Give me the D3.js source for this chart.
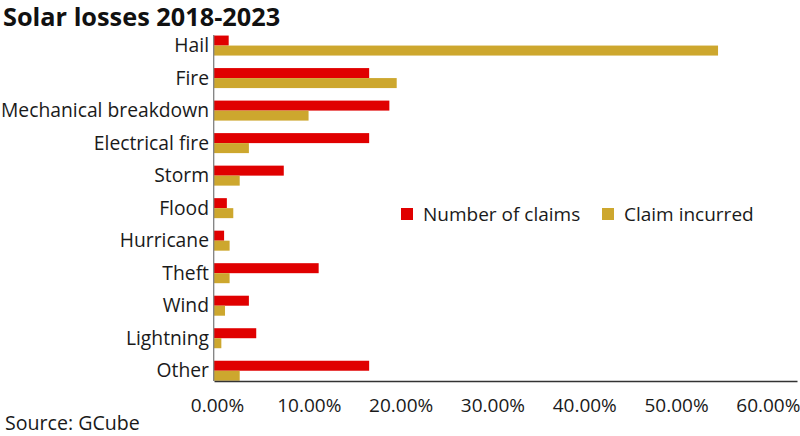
<!DOCTYPE html>
<html><head><meta charset="utf-8">
<script src="https://cdn.jsdelivr.net/npm/d3@7"></script>
<style>body{margin:0;background:#fff}svg{display:block}text{font-family:"Open Sans",sans-serif}</style>
</head><body><svg id="c" width="800" height="436"></svg>
<script>
const categories = ["Hail","Fire","Mechanical breakdown","Electrical fire","Storm","Flood","Hurricane","Theft","Wind","Lightning","Other"];
const numberOfClaims = [1.6,16.9,19.1,16.9,7.6,1.4,1.1,11.4,3.8,4.6,16.9];
const claimIncurred = [54.9,19.9,10.3,3.8,2.8,2.1,1.7,1.7,1.2,0.8,2.8];
const seriesNames = ["Number of claims","Claim incurred"];
const tickValues = [0,10,20,30,40,50,60];
const colors = ["#e00000","#cda72e"];

const svg = d3.select("#c");
const x = d3.scaleLinear().domain([0,63.5]).range([214,797]);
const y = d3.scaleBand().domain(categories).range([29.3,387]).paddingInner(0.385).paddingOuter(0.1925);
const sub = d3.scaleBand().domain([0,1]).range([0,y.bandwidth()]);

svg.append("text").attr("x",3).attr("y",26).attr("font-size",25.3).attr("font-weight",700).attr("fill","#111").text("Solar losses 2018-2023");

const series = [numberOfClaims, claimIncurred];
series.forEach((vals,si)=>{
  svg.append("g").selectAll("rect").data(categories).join("rect")
    .attr("x",x(0)).attr("y",d=>y(d)+sub(si))
    .attr("width",(d,i)=>x(vals[i])-x(0)).attr("height",sub.bandwidth())
    .attr("fill",colors[si]);
});

// category labels
svg.append("g").selectAll("text").data(categories).join("text")
  .attr("x",209).attr("y",d=>y(d)+y.bandwidth()/2).attr("dy","0.35em")
  .attr("text-anchor","end").attr("font-size",19.3).attr("fill","#1a1a1a").text(d=>d);

// y axis line
svg.append("line").attr("x1",213.7).attr("x2",213.7).attr("y1",35).attr("y2",381).attr("stroke","#808080").attr("stroke-width",1.3);
// x axis
const xa = svg.append("g").attr("transform","translate(0,381)")
  .call(d3.axisBottom(x).tickValues(tickValues).tickSize(0).tickPadding(18).tickFormat(d=>d.toFixed(2)+"%"));
xa.select(".domain").attr("stroke","#333").attr("stroke-width",1.3);
xa.selectAll("text").attr("font-size",19).attr("fill","#1a1a1a").attr("font-family","Open Sans, sans-serif").attr("dx",3);

// legend
const lg = svg.append("g");
const lx = [401,602];
seriesNames.forEach((n,i)=>{
  lg.append("rect").attr("x",lx[i]).attr("y",208).attr("width",12).attr("height",12).attr("fill",colors[i]);
  lg.append("text").attr("x",lx[i]+22).attr("y",221).attr("font-size",19).attr("fill","#1a1a1a").text(n);
});

svg.append("text").attr("x",5).attr("y",430).attr("font-size",19.6).attr("fill","#1a1a1a").text("Source: GCube");
</script></body></html>
